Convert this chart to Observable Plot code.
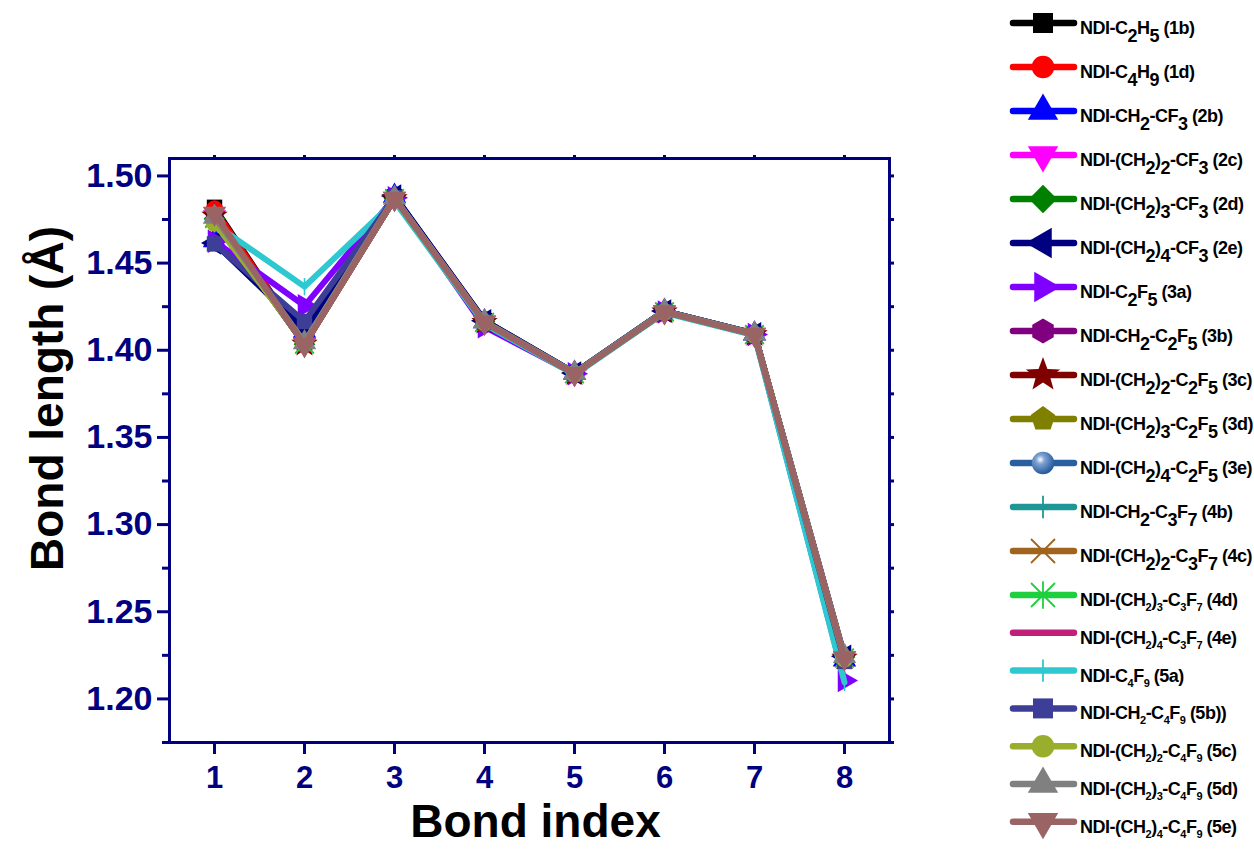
<!DOCTYPE html>
<html>
<head>
<meta charset="utf-8">
<script src="https://cdn.jsdelivr.net/npm/d3@7"></script>
<script src="https://cdn.jsdelivr.net/npm/@observablehq/plot@0.6"></script>
<style>
  body { margin: 0; background: #fff; }
  #wrap { position: relative; width: 1254px; height: 851px; overflow: hidden; background: #fff; }
  #chart { position: absolute; left: 0; top: 0; }
  #legend { position: absolute; left: 1000px; top: 0; }
  #chart svg [aria-label$="tick label"] text { font-weight: bold; }
</style>
</head>
<body>
<div id="wrap">
  <div id="chart"></div>
  <svg id="legend" width="254" height="851" xmlns="http://www.w3.org/2000/svg">
    <defs>
      <radialGradient id="sphereGrad" cx="0.38" cy="0.35" r="0.65">
        <stop offset="0" stop-color="#ffffff"/>
        <stop offset="0.3" stop-color="#7fa3d2"/>
        <stop offset="1" stop-color="#24599c"/>
      </radialGradient>
    </defs>
  </svg>
</div>
<script>
// ---------------- data ----------------
const bondIndex = [1, 2, 3, 4, 5, 6, 7, 8];
const xTicks = [1, 2, 3, 4, 5, 6, 7, 8];
const yTicks = [1.20, 1.25, 1.30, 1.35, 1.40, 1.45, 1.50];
const yMinorTicks = [1.175, 1.225, 1.275, 1.325, 1.375, 1.425, 1.475];

const seriesKeys = ["1b","1d","2b","2c","2d","2e","3a","3b","3c","3d","3e","4b","4c","4d","4e","5a","5b","5c","5d","5e"];
const seriesLabels = [
  "NDI-C_2H_5 (1b)",
  "NDI-C_4H_9 (1d)",
  "NDI-CH_2-CF_3 (2b)",
  "NDI-(CH_2)_2-CF_3 (2c)",
  "NDI-(CH_2)_3-CF_3 (2d)",
  "NDI-(CH_2)_4-CF_3 (2e)",
  "NDI-C_2F_5 (3a)",
  "NDI-CH_2-C_2F_5 (3b)",
  "NDI-(CH_2)_2-C_2F_5 (3c)",
  "NDI-(CH_2)_3-C_2F_5 (3d)",
  "NDI-(CH_2)_4-C_2F_5 (3e)",
  "NDI-CH_2-C_3F_7 (4b)",
  "NDI-(CH_2)_2-C_3F_7 (4c)",
  "NDI-(CH_2)_3-C_3F_7 (4d)",
  "NDI-(CH_2)_4-C_3F_7 (4e)",
  "NDI-C_4F_9 (5a)",
  "NDI-CH_2-C_4F_9 (5b))",
  "NDI-(CH_2)_2-C_4F_9 (5c)",
  "NDI-(CH_2)_3-C_4F_9 (5d)",
  "NDI-(CH_2)_4-C_4F_9 (5e)"
];
const smallSubscripts = ["4d","4e","5a","5b","5c","5d","5e"];
const seriesColors = ["#000000","#ff0000","#0000ff","#ff00ff","#008000","#000080","#8000ff","#800080","#800000","#808000",
                      "#2a5f9f","#1f9696","#a0641e","#1fcf40","#c0207a","#2ec8d0","#3c3e98","#9aae2e","#808080","#9a6464"];
const seriesMarkers = ["square","circle","triUp","triDown","diamond","triLeft","triRight","hexagon","star","pentagon",
                       "sphere","vtick","times","asterisk","none","vtick","square","circle","triUp","triDown"];

const bondLengths = [
  [1.482, 1.404, 1.488, 1.417, 1.387, 1.4225, 1.4095, 1.2235],
  [1.481, 1.404, 1.4875, 1.4165, 1.3868, 1.422, 1.409, 1.224],
  [1.463, 1.411, 1.4885, 1.4165, 1.387, 1.4225, 1.4095, 1.2225],
  [1.4765, 1.4035, 1.487, 1.416, 1.3865, 1.422, 1.409, 1.2235],
  [1.4755, 1.4035, 1.487, 1.4165, 1.387, 1.4225, 1.4095, 1.224],
  [1.4615, 1.412, 1.4885, 1.417, 1.387, 1.4225, 1.4095, 1.2245],
  [1.4625, 1.4255, 1.4875, 1.4135, 1.3865, 1.422, 1.409, 1.2105],
  [1.477, 1.4035, 1.487, 1.416, 1.3865, 1.422, 1.409, 1.2235],
  [1.477, 1.4035, 1.487, 1.416, 1.3865, 1.422, 1.409, 1.2235],
  [1.474, 1.404, 1.487, 1.416, 1.3865, 1.422, 1.409, 1.2235],
  [1.4745, 1.404, 1.487, 1.416, 1.3865, 1.422, 1.409, 1.2235],
  [1.4745, 1.404, 1.487, 1.416, 1.3865, 1.422, 1.409, 1.223],
  [1.476, 1.4035, 1.487, 1.416, 1.3865, 1.422, 1.409, 1.2235],
  [1.4755, 1.4035, 1.487, 1.416, 1.3865, 1.422, 1.409, 1.2235],
  [1.4765, 1.4035, 1.487, 1.416, 1.3865, 1.422, 1.409, 1.2235],
  [1.4725, 1.4365, 1.4855, 1.415, 1.386, 1.4215, 1.4085, 1.2095],
  [1.461, 1.4165, 1.4875, 1.416, 1.3865, 1.422, 1.409, 1.2215],
  [1.473, 1.4045, 1.487, 1.416, 1.3865, 1.422, 1.409, 1.223],
  [1.4765, 1.4045, 1.4875, 1.4165, 1.387, 1.4225, 1.4095, 1.2245],
  [1.4785, 1.403, 1.487, 1.416, 1.3865, 1.422, 1.409, 1.2235]
];

// ---------------- symbols ----------------
function poly(n, rot) {
  return {draw(ctx, size) {
    const R = Math.sqrt(2 * size / (n * Math.sin(2 * Math.PI / n)));
    for (let i = 0; i < n; i++) {
      const a = rot + 2 * Math.PI * i / n;
      const x = R * Math.cos(a), y = R * Math.sin(a);
      if (i) ctx.lineTo(x, y); else ctx.moveTo(x, y);
    }
    ctx.closePath();
  }};
}
const starSym = {draw(ctx, size) {
  const k = 0.42;
  const R = Math.sqrt(size / (5 * k * Math.sin(Math.PI / 5)));
  for (let i = 0; i < 10; i++) {
    const a = -Math.PI / 2 + i * Math.PI / 5;
    const rr = i % 2 ? k * R : R;
    const x = rr * Math.cos(a), y = rr * Math.sin(a);
    if (i) ctx.lineTo(x, y); else ctx.moveTo(x, y);
  }
  ctx.closePath();
}};
const vtickSym = {draw(ctx, size) {
  const L = Math.sqrt(size) * 0.56;
  ctx.moveTo(0, -L); ctx.lineTo(0, L);
}};
const timesSym = {draw(ctx, size) {
  const L = Math.sqrt(size) * 0.6;
  ctx.moveTo(-L, -L); ctx.lineTo(L, L); ctx.moveTo(L, -L); ctx.lineTo(-L, L);
}};
const asteriskSym = {draw(ctx, size) {
  const L = Math.sqrt(size) * 0.6, M = L * 1.15;
  ctx.moveTo(-L, -L); ctx.lineTo(L, L); ctx.moveTo(L, -L); ctx.lineTo(-L, L);
  ctx.moveTo(0, -M); ctx.lineTo(0, M);
}};
const symbolDefs = {
  square: {sym: poly(4, Math.PI / 4), filled: true},
  circle: {sym: d3.symbolCircle, filled: true},
  sphere: {sym: d3.symbolCircle, filled: true, gradient: true},
  triUp: {sym: poly(3, -Math.PI / 2), filled: true},
  triDown: {sym: poly(3, Math.PI / 2), filled: true},
  triLeft: {sym: poly(3, Math.PI), filled: true},
  triRight: {sym: poly(3, 0), filled: true},
  diamond: {sym: poly(4, -Math.PI / 2), filled: true},
  hexagon: {sym: poly(6, -Math.PI / 2), filled: true},
  pentagon: {sym: poly(5, -Math.PI / 2), filled: true},
  star: {sym: starSym, filled: true},
  vtick: {sym: vtickSym, filled: false},
  times: {sym: timesSym, filled: false},
  asterisk: {sym: asteriskSym, filled: false}
};

// ---------------- plot ----------------
const navy = "#000080";
const rows = [];
seriesKeys.forEach((k, i) => bondIndex.forEach((b, j) => rows.push({key: k, index: b, length: bondLengths[i][j]})));

const marks = [];
seriesKeys.forEach((k, i) => {
  const data = rows.filter(r => r.key === k);
  const color = seriesColors[i];
  marks.push(Plot.line(data, {x: "index", y: "length", stroke: color, strokeWidth: 6, strokeLinejoin: "round"}));
  const m = symbolDefs[seriesMarkers[i]];
  if (m) {
    if (m.filled) {
      marks.push(Plot.dot(data, {x: "index", y: "length", symbol: m.sym, r: 8.7,
        fill: m.gradient ? "url(#sphereGrad)" : color, stroke: "none"}));
    } else {
      marks.push(Plot.dot(data, {x: "index", y: "length", symbol: m.sym, r: 8.7,
        fill: "none", stroke: color, strokeWidth: 1.6}));
    }
  }
});

const chart = Plot.plot({
  width: 1000,
  height: 851,
  marginLeft: 169,
  marginRight: 111,
  marginTop: 158,
  marginBottom: 109,
  style: {fontFamily: "'Liberation Sans', Arial, sans-serif", background: "white", overflow: "visible"},
  x: {domain: [0.5, 8.5]},
  y: {domain: [1.175, 1.51]},
  marks: [
    ...marks,
    Plot.axisY({ticks: yTicks, tickSize: 12, tickPadding: 5, strokeWidth: 3, color: navy, fontSize: 34,
      fontWeight: "bold", tickFormat: d => d.toFixed(2), label: null}),
    Plot.axisY({ticks: yMinorTicks, tickSize: 7, strokeWidth: 3, color: navy, tickFormat: () => "", label: null}),
    Plot.axisY({anchor: "right", ticks: [...yTicks, ...yMinorTicks], tickSize: 4, strokeWidth: 3, color: navy,
      tickFormat: () => "", label: null}),
    Plot.axisX({ticks: xTicks, tickSize: 12, tickPadding: 11, strokeWidth: 3, color: navy, fontSize: 31,
      fontWeight: "bold", tickFormat: d => String(d), label: null}),
    Plot.axisX({anchor: "top", ticks: xTicks, tickSize: 4, strokeWidth: 3, color: navy, tickFormat: () => "", label: null}),
    Plot.frame({stroke: navy, strokeWidth: 3}),
    Plot.text(["Bond length (Å)"], {frameAnchor: "left", rotate: -90, dx: -121, dy: -52, fontSize: 46,
      fontWeight: "bold", fill: "black", textAnchor: "middle", lineAnchor: "middle"}),
    Plot.text(["Bond index"], {frameAnchor: "bottom", dx: 6, dy: 80, fontSize: 46,
      fontWeight: "bold", fill: "black", textAnchor: "middle", lineAnchor: "middle"})
  ]
});
document.getElementById("chart").appendChild(chart);

// ---------------- legend ----------------
const leg = d3.select("#legend");
seriesKeys.forEach((k, i) => {
  const cy = i < 14 ? 23 + 44 * i : 595 + 37.8 * (i - 13);
  const color = seriesColors[i];
  const g = leg.append("g").attr("transform", `translate(0,${cy})`);
  g.append("line").attr("x1", 13).attr("x2", 74).attr("y1", 0).attr("y2", 0)
    .attr("stroke", color).attr("stroke-width", 6.5).attr("stroke-linecap", "round");
  const m = symbolDefs[seriesMarkers[i]];
  if (m) {
    const p = g.append("path").attr("transform", "translate(43,0)").attr("d", d3.symbol(m.sym, 400)());
    if (m.filled) p.attr("fill", m.gradient ? "url(#sphereGrad)" : color);
    else p.attr("fill", "none").attr("stroke", color).attr("stroke-width", 1.8);
  }
  const small = smallSubscripts.includes(k);
  const subSize = small ? 11 : 18, subShift = small ? 5 : 8;
  const t = g.append("text").attr("x", 80).attr("y", 11)
    .attr("font-family", "'Liberation Sans', Arial, sans-serif").attr("font-weight", "bold")
    .attr("font-size", 18).attr("letter-spacing", -0.5).attr("fill", "black");
  const parts = seriesLabels[i].split(/_(\d)/);
  let lowered = false;
  parts.forEach((s, j) => {
    if (!s) return;
    const isSub = j % 2 === 1;
    const ts = t.append("tspan").text(s);
    if (isSub) {
      ts.attr("font-size", subSize);
      if (!lowered) { ts.attr("dy", subShift); lowered = true; }
    } else if (lowered) {
      ts.attr("dy", -subShift); lowered = false;
    }
  });
});
</script>
</body>
</html>
